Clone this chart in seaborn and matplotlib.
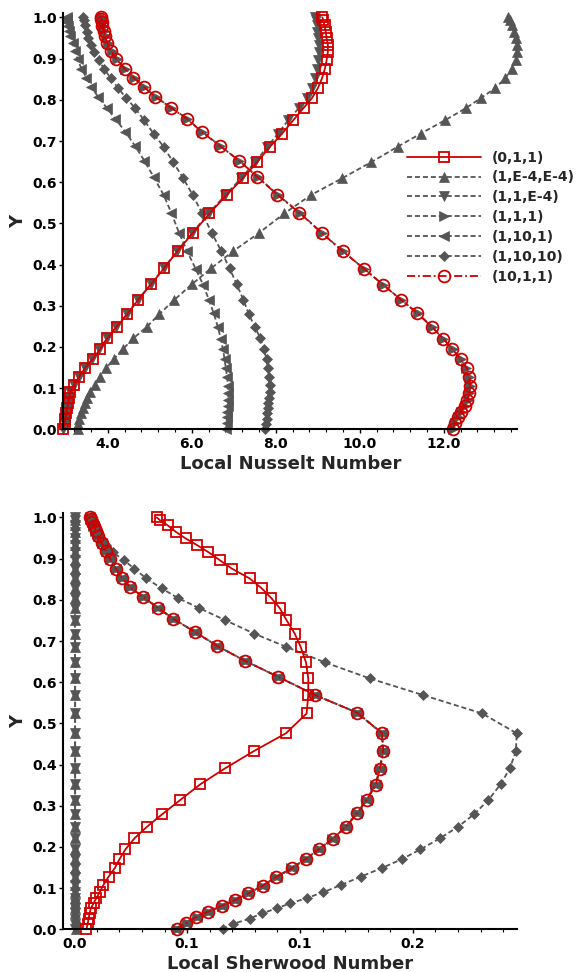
import pandas as pd
import seaborn as sns
import matplotlib.pyplot as plt
from matplotlib.ticker import MultipleLocator, FixedLocator, FixedFormatter

# wall-normal grid positions
y_a = [0.0, 0.013, 0.026, 0.039, 0.051, 0.063, 0.076, 0.09, 0.108, 0.128, 0.149, 0.17, 0.194, 0.221,
       0.249, 0.279, 0.314, 0.352, 0.391, 0.433, 0.476, 0.524, 0.569, 0.609, 0.648, 0.686, 0.718, 0.751,
       0.78, 0.804, 0.828, 0.852, 0.876, 0.896, 0.916, 0.933, 0.949, 0.965, 0.981, 0.993, 1.0]
y_b = [0.0, 0.015, 0.03, 0.043, 0.057, 0.071, 0.087, 0.106, 0.127, 0.148, 0.171, 0.195, 0.22, 0.249,
       0.282, 0.314, 0.351, 0.39, 0.432, 0.476, 0.526, 0.569, 0.613, 0.652, 0.688, 0.722, 0.754, 0.781,
       0.807, 0.831, 0.854, 0.876, 0.899, 0.919, 0.938, 0.954, 0.968, 0.98, 0.99, 0.997, 1.0]

cases = ["(0,1,1)", "(1,E-4,E-4)", "(1,1,E-4)", "(1,1,1)", "(1,10,1)", "(1,10,10)", "(10,1,1)"]

# local Nusselt number
nu_011 = [2.94, 2.97, 2.99, 3.01, 3.03, 3.06, 3.08, 3.11, 3.2, 3.32, 3.46, 3.64, 3.81, 3.99, 4.21, 4.46,
          4.72, 5.03, 5.34, 5.66, 6.02, 6.42, 6.83, 7.21, 7.55, 7.86, 8.15, 8.42, 8.66, 8.86, 9.0, 9.1,
          9.17, 9.21, 9.24, 9.24, 9.21, 9.19, 9.16, 9.13, 9.11]
nu_1e4e4 = [3.28, 3.29, 3.32, 3.36, 3.41, 3.46, 3.51, 3.57, 3.69, 3.82, 3.96, 4.14, 4.35, 4.61, 4.93, 5.22,
            5.58, 6.0, 6.46, 6.99, 7.59, 8.2, 8.84, 9.57, 10.26, 10.9, 11.45, 12.04, 12.53, 12.88, 13.22,
            13.46, 13.63, 13.72, 13.75, 13.75, 13.72, 13.67, 13.62, 13.57, 13.54]
nu_11e4 = [2.94, 2.97, 2.99, 3.01, 3.03, 3.06, 3.08, 3.11, 3.2, 3.32, 3.46, 3.63, 3.8, 3.98, 4.2, 4.45,
           4.71, 5.02, 5.33, 5.65, 6.0, 6.4, 6.8, 7.17, 7.5, 7.8, 8.05, 8.3, 8.55, 8.75, 8.87, 8.93, 8.98,
           9.0, 9.02, 9.02, 9.01, 8.99, 8.97, 8.95, 8.94]
nu_111 = [12.22, 12.27, 12.34, 12.42, 12.5, 12.57, 12.61, 12.62, 12.6, 12.54, 12.4, 12.21, 11.99, 11.72,
          11.38, 10.99, 10.56, 10.1, 9.6, 9.11, 8.57, 8.05, 7.57, 7.13, 6.68, 6.25, 5.89, 5.51, 5.14, 4.87,
          4.62, 4.41, 4.21, 4.09, 4.0, 3.95, 3.91, 3.88, 3.86, 3.85, 3.85]
nu_1101 = [6.82, 6.83, 6.84, 6.85, 6.86, 6.87, 6.87, 6.86, 6.84, 6.81, 6.78, 6.74, 6.69, 6.62, 6.52, 6.41,
           6.27, 6.09, 5.89, 5.7, 5.51, 5.33, 5.09, 4.87, 4.65, 4.42, 4.18, 3.97, 3.77, 3.61, 3.49, 3.37,
           3.28, 3.21, 3.16, 3.11, 3.08, 3.05, 3.03, 3.02, 3.02]
nu_11010 = [7.75, 7.76, 7.78, 7.8, 7.81, 7.82, 7.84, 7.86, 7.86, 7.84, 7.81, 7.78, 7.72, 7.63, 7.5, 7.36,
            7.23, 7.07, 6.9, 6.7, 6.48, 6.25, 6.02, 5.8, 5.56, 5.33, 5.09, 4.86, 4.65, 4.44, 4.25, 4.07,
            3.91, 3.78, 3.67, 3.6, 3.54, 3.5, 3.46, 3.44, 3.42]
nu_1011 = [12.21, 12.26, 12.33, 12.42, 12.5, 12.56, 12.61, 12.63, 12.61, 12.55, 12.4, 12.2, 11.99, 11.71,
           11.37, 10.99, 10.55, 10.1, 9.6, 9.1, 8.56, 8.04, 7.56, 7.13, 6.67, 6.24, 5.88, 5.5, 5.13, 4.86,
           4.61, 4.4, 4.2, 4.08, 3.99, 3.94, 3.9, 3.87, 3.86, 3.84, 3.84]

# local Sherwood number
sh_011 = [0.008, 0.0089, 0.0095, 0.0102, 0.011, 0.0128, 0.0147, 0.0169, 0.0194, 0.0228, 0.027, 0.03,
          0.034, 0.04, 0.0483, 0.0583, 0.0704, 0.0837, 0.1003, 0.1195, 0.1407, 0.1544, 0.1555, 0.1555,
          0.154, 0.1504, 0.1465, 0.141, 0.1365, 0.131, 0.1245, 0.1165, 0.1046, 0.0968, 0.089, 0.0815,
          0.074, 0.0675, 0.062, 0.057, 0.0548]
sh_1e4e4 = [0.0009, 0.0009, 0.0009, 0.0008, 0.0008, 0.0008, 0.0008, 0.0008, 0.0007, 0.0007, 0.0007,
            0.0007, 0.0007, 0.0007, 0.0006, 0.0006, 0.0006, 0.0006, 0.0006, 0.0006, 0.0006, 0.0006,
            0.0006, 0.0006, 0.0005, 0.0005, 0.0005, 0.0005, 0.0005, 0.0005, 0.0005, 0.0005, 0.0005,
            0.0005, 0.0005, 0.0005, 0.0005, 0.0005, 0.0005, 0.0005, 0.0005]
sh_11e4 = [0.0008, 0.0008, 0.0008, 0.0008, 0.0007, 0.0007, 0.0007, 0.0007, 0.0007, 0.0006, 0.0006,
           0.0006, 0.0006, 0.0006, 0.0006, 0.0005, 0.0005, 0.0005, 0.0005, 0.0005, 0.0005, 0.0005,
           0.0005, 0.0005, 0.0005, 0.0004, 0.0004, 0.0004, 0.0004, 0.0004, 0.0004, 0.0004, 0.0004,
           0.0004, 0.0004, 0.0004, 0.0004, 0.0004, 0.0004, 0.0004, 0.0004]
sh_111 = [0.0683, 0.0747, 0.0815, 0.0891, 0.0979, 0.1066, 0.1155, 0.125, 0.1342, 0.1442, 0.1538, 0.1627,
          0.1715, 0.1803, 0.1879, 0.1941, 0.2001, 0.203, 0.2051, 0.2043, 0.1878, 0.1598, 0.1354, 0.1133,
          0.0949, 0.0801, 0.0657, 0.0553, 0.0457, 0.0369, 0.0314, 0.0274, 0.0237, 0.0208, 0.0181, 0.0159,
          0.0141, 0.0127, 0.0117, 0.0107, 0.0103]
sh_1101 = [0.0679, 0.0744, 0.0813, 0.0889, 0.0981, 0.1069, 0.1157, 0.1253, 0.1344, 0.1445, 0.1541,
           0.1629, 0.1718, 0.1806, 0.1881, 0.1944, 0.2004, 0.2032, 0.2054, 0.2046, 0.1881, 0.1601, 0.1356,
           0.1135, 0.0951, 0.0803, 0.0659, 0.0555, 0.0459, 0.0371, 0.0316, 0.0276, 0.0239, 0.021, 0.0183,
           0.0161, 0.0143, 0.0129, 0.0119, 0.0109, 0.0105]
sh_11010 = [0.0986, 0.1055, 0.1165, 0.125, 0.1345, 0.1435, 0.1545, 0.1654, 0.1775, 0.1905, 0.2045,
            0.2175, 0.23, 0.243, 0.255, 0.2656, 0.2752, 0.2833, 0.2895, 0.2935, 0.294, 0.2711, 0.2315,
            0.1965, 0.1666, 0.1407, 0.1195, 0.1, 0.083, 0.069, 0.058, 0.0478, 0.0398, 0.033, 0.0255,
            0.021, 0.018, 0.0155, 0.0135, 0.012, 0.011]
sh_1011 = [0.068, 0.0745, 0.0812, 0.089, 0.098, 0.1068, 0.1156, 0.1252, 0.1343, 0.1444, 0.154, 0.1628,
           0.1717, 0.1805, 0.188, 0.1943, 0.2003, 0.2031, 0.2053, 0.2045, 0.188, 0.16, 0.1355, 0.1134,
           0.095, 0.0802, 0.0658, 0.0554, 0.0458, 0.037, 0.0315, 0.0275, 0.0238, 0.0209, 0.0182, 0.016,
           0.0142, 0.0128, 0.0118, 0.0108, 0.0104]

nu_ticks = [4.0, 6.0, 8.0, 10.0, 12.0]
nu_ticklabels = ["4.0", "6.0", "8.0", "10.0", "12.0"]
sh_ticks = [0.0, 0.075, 0.15, 0.225]
sh_ticklabels = ["0.0", "0.1", "0.1", "0.2"]
y_ticks = [0.0, 0.1, 0.2, 0.3, 0.4, 0.5, 0.6, 0.7, 0.8, 0.9, 1.0]
y_ticklabels = ["0.0", "0.1", "0.2", "0.3", "0.4", "0.5", "0.6", "0.7", "0.8", "0.9", "1.0"]


def make_frame(values, col):
    grids = [y_a, y_a, y_a, y_b, y_b, y_a, y_b]
    rows = []
    for case, ys, xs in zip(cases, grids, values):
        for x, y in zip(xs, ys):
            rows.append([case, x, y])
    return pd.DataFrame(rows, columns=["case", col, "Y"])


df_nu = make_frame([nu_011, nu_1e4e4, nu_11e4, nu_111, nu_1101, nu_11010, nu_1011], "Nu")
df_sh = make_frame([sh_011, sh_1e4e4, sh_11e4, sh_111, sh_1101, sh_11010, sh_1011], "Sh")

red = "#D00000"
grey = "#555555"
dash = (0, (2.8, 1.6))
styles = {
    "(0,1,1)": dict(color=red, marker="s", linestyle="-", markersize=7, markerfacecolor="none",
                    markeredgecolor=red, markeredgewidth=1.3),
    "(1,E-4,E-4)": dict(color=grey, marker="^", linestyle=dash, markersize=6.5, markerfacecolor=grey,
                        markeredgecolor=grey, markeredgewidth=0.5),
    "(1,1,E-4)": dict(color=grey, marker="v", linestyle=dash, markersize=6.5, markerfacecolor=grey,
                      markeredgecolor=grey, markeredgewidth=0.5),
    "(1,1,1)": dict(color=grey, marker=">", linestyle=dash, markersize=6.5, markerfacecolor=grey,
                    markeredgecolor=grey, markeredgewidth=0.5),
    "(1,10,1)": dict(color=grey, marker="<", linestyle=dash, markersize=6.5, markerfacecolor=grey,
                     markeredgecolor=grey, markeredgewidth=0.5),
    "(1,10,10)": dict(color=grey, marker="D", linestyle=dash, markersize=5.2, markerfacecolor=grey,
                      markeredgecolor=grey, markeredgewidth=0.5),
    "(10,1,1)": dict(color=red, marker="o", linestyle=(0, (4.5, 1.6, 1.0, 1.6)), markersize=8.5,
                     markerfacecolor="none", markeredgecolor=red, markeredgewidth=1.3),
}
draw_order = ["(1,E-4,E-4)", "(1,1,E-4)", "(1,1,1)", "(1,10,1)", "(1,10,10)", "(0,1,1)", "(10,1,1)"]

sns.set_style("ticks")
plt.rcParams["font.family"] = ["DejaVu Sans"]
plt.rcParams["font.weight"] = "bold"

fig = plt.figure(figsize=(5.79, 9.72), dpi=100)
ax_nu = fig.add_axes([0.1093, 0.5583, 0.7841, 0.4280])
ax_sh = fig.add_axes([0.1093, 0.0439, 0.7841, 0.4280])


def draw_panel(ax, df, col):
    handles = {}
    for case in draw_order:
        sub = df[df["case"] == case]
        sns.lineplot(data=sub, x=col, y="Y", ax=ax, sort=False, estimator=None, linewidth=1.3,
                     clip_on=False, label=case, **styles[case])
        handles[case] = ax.get_lines()[-1]
    if ax.get_legend() is not None:
        ax.get_legend().remove()
    return handles


h = draw_panel(ax_nu, df_nu, "Nu")
draw_panel(ax_sh, df_sh, "Sh")

ax_nu.set_xlim(2.94, 13.75)
ax_sh.set_xlim(-0.0073, 0.2944)
for ax in (ax_nu, ax_sh):
    ax.set_ylim(0, 1.01)
    ax.yaxis.set_major_locator(FixedLocator(y_ticks))
    ax.yaxis.set_major_formatter(FixedFormatter(y_ticklabels))
    sns.despine(ax=ax)
    for s in ("left", "bottom"):
        ax.spines[s].set_linewidth(1.5)
        ax.spines[s].set_color("black")
    ax.tick_params(axis="both", which="major", length=3, width=1, pad=1.5, labelsize=10, colors="black")
    ax.tick_params(axis="x", which="major", pad=2.5)
    ax.tick_params(axis="x", which="minor", length=2, width=0.8, color="black")
    ax.set_ylabel("Y", fontsize=13, fontweight="bold", labelpad=4)

ax_nu.xaxis.set_major_locator(FixedLocator(nu_ticks))
ax_nu.xaxis.set_major_formatter(FixedFormatter(nu_ticklabels))
ax_nu.xaxis.set_minor_locator(MultipleLocator(0.4))
ax_sh.xaxis.set_major_locator(FixedLocator(sh_ticks))
ax_sh.xaxis.set_major_formatter(FixedFormatter(sh_ticklabels))
ax_sh.xaxis.set_minor_locator(MultipleLocator(0.015))
for ax in (ax_nu, ax_sh):
    for t in ax.get_xticklabels() + ax.get_yticklabels():
        t.set_fontweight("bold")

ax_nu.set_xlabel("Local Nusselt Number", fontsize=13, fontweight="bold", labelpad=3)
ax_sh.set_xlabel("Local Sherwood Number", fontsize=13, fontweight="bold", labelpad=3)

ax_nu.legend([h[c] for c in cases], cases, loc="upper left", bbox_to_anchor=(0.703, 0.845),
             bbox_transform=fig.transFigure, frameon=False, handlelength=5.3,
             handletextpad=0.8, labelspacing=0.42, borderpad=0, borderaxespad=0, numpoints=1,
             prop={"weight": "bold", "size": 10})

fig.savefig("out.png", dpi=100)
